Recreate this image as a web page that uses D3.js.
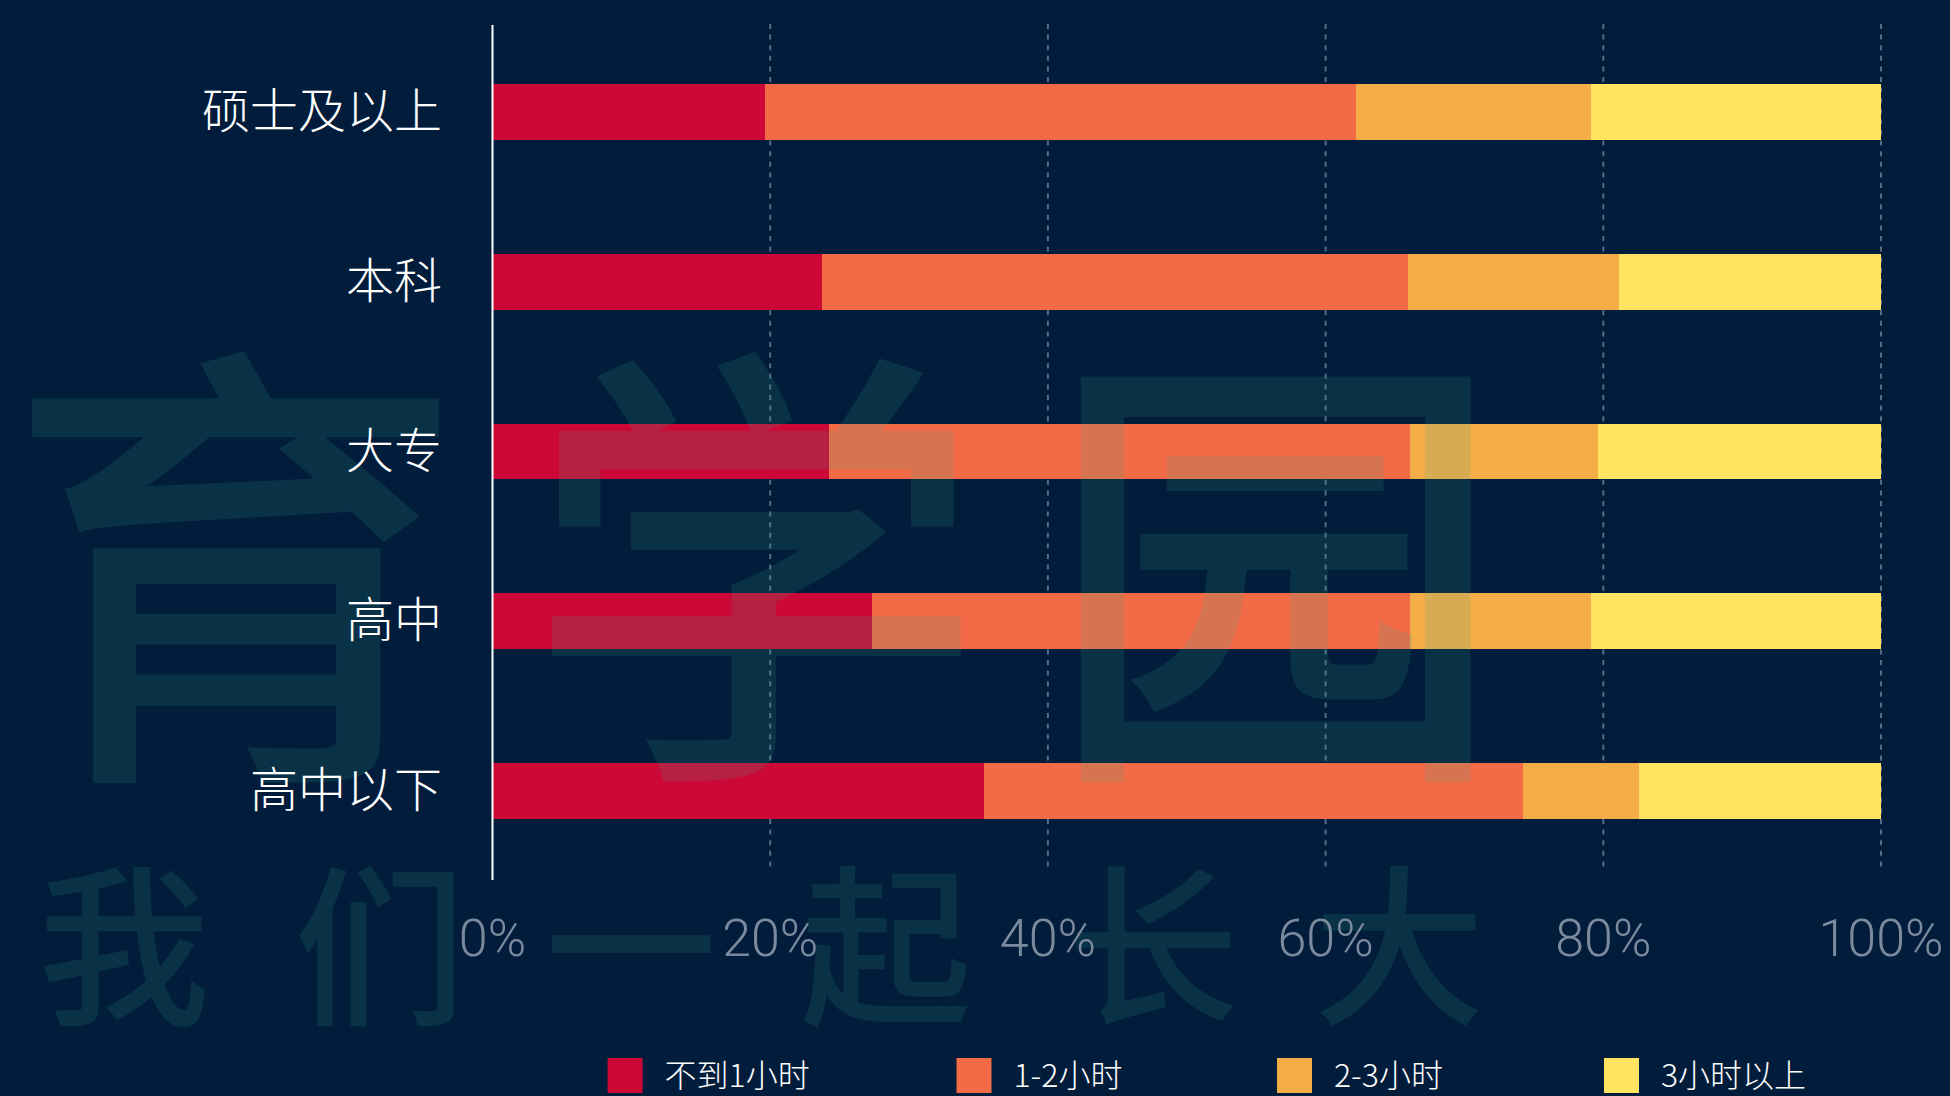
<!DOCTYPE html>
<html>
<head>
<meta charset="utf-8">
<script src="https://cdn.jsdelivr.net/npm/d3@7/dist/d3.min.js"></script>
<style>
  html, body { margin: 0; padding: 0; background: #011d3b; }
  svg { display: block; }
</style>
</head>
<body>
<svg id="chart" width="1950" height="1096"></svg>
<script>
// ---- data ----
const categories = ["硕士及以上", "本科", "大专", "高中", "高中以下"];
const seriesNames = ["不到1小时", "1-2小时", "2-3小时", "3小时以上"];
const lessThan1 = [19.6, 23.7, 24.2, 27.3, 35.4];
const oneToTwo  = [42.6, 42.2, 41.9, 38.8, 38.8];
const twoToThree = [16.9, 15.2, 13.5, 13.0, 8.4];
const moreThan3 = [20.9, 18.9, 20.4, 20.9, 17.4];
const tickValues = [0, 20, 40, 60, 80, 100];
const tickLabels = ["0%", "20%", "40%", "60%", "80%", "100%"];
const colors = ["#cc0836", "#f36a46", "#f5ad47", "#ffe462"];
const watermarkBig = ["育", "学", "园"];
const watermarkSmall = ["我", "们", "一", "起", "长", "大"];

// ---- table ----
const seriesValues = [lessThan1, oneToTwo, twoToThree, moreThan3];
const rows = categories.map((c, i) => {
  const r = { cat: c };
  seriesNames.forEach((s, j) => r[s] = seriesValues[j][i]);
  return r;
});
const stacked = d3.stack().keys(seriesNames)(rows);

const svg = d3.select("#chart");
const W = 1950, H = 1096;
svg.append("rect").attr("width", W).attr("height", H).attr("fill", "#011d3b");

const x = d3.scaleLinear().domain([0, 100]).range([492.5, 1881]);
const y = d3.scaleBand().domain(categories).range([25, 878])
  .paddingInner(0.67).paddingOuter(0.35);

// gridlines
const grid = svg.append("g");
grid.selectAll("line").data(tickValues.slice(1)).join("line")
  .attr("x1", d => x(d)).attr("x2", d => x(d))
  .attr("y1", 24).attr("y2", 872)
  .attr("stroke", "#566b84").attr("stroke-width", 2)
  .attr("stroke-dasharray", "5,5.6");

// bars
const color = d3.scaleOrdinal().domain(seriesNames).range(colors);
svg.append("g").selectAll("g").data(stacked).join("g")
  .attr("fill", d => color(d.key))
  .selectAll("rect").data(d => d).join("rect")
  .attr("x", d => x(d[0]))
  .attr("width", d => x(d[1]) - x(d[0]))
  .attr("y", d => y(d.data.cat))
  .attr("height", y.bandwidth())
  .attr("shape-rendering", "crispEdges");

// watermark (drawn over bars, under texts)
const wm = svg.append("g").attr("pointer-events", "none");
const bigX = [235, 755, 1275];
wm.selectAll("text.big").data(watermarkBig).join("text")
  .attr("class", "big")
  .attr("x", (d, i) => bigX[i]).attr("y", 543)
  .attr("text-anchor", "middle")
  .attr("dominant-baseline", "central")
  .attr("font-family", "'Noto Sans CJK SC', sans-serif")
  .attr("font-weight", 500)
  .attr("font-size", 460)
  .attr("fill", "rgb(62,160,134)")
  .attr("fill-opacity", 0.16)
  .text(d => d);
const smallX = [124, 380, 631, 886, 1153, 1399];
wm.selectAll("text.small").data(watermarkSmall).join("text")
  .attr("class", "small")
  .attr("x", (d, i) => smallX[i]).attr("y", 936)
  .attr("text-anchor", "middle")
  .attr("dominant-baseline", "central")
  .attr("font-family", "'Noto Sans CJK SC', sans-serif")
  .attr("font-weight", 500)
  .attr("font-size", 172)
  .attr("fill", "rgb(62,160,134)")
  .attr("fill-opacity", 0.16)
  .text(d => d);

// y axis line
svg.append("line")
  .attr("x1", x(0)).attr("x2", x(0))
  .attr("y1", 25).attr("y2", 880)
  .attr("stroke", "#ffffff").attr("stroke-width", 2);

// category labels
svg.append("g").selectAll("text").data(categories).join("text")
  .attr("x", 442)
  .attr("y", d => y(d) + y.bandwidth() / 2 - 5)
  .attr("text-anchor", "end")
  .attr("dominant-baseline", "central")
  .attr("fill", "#ffffff")
  .attr("font-family", "'Noto Sans CJK SC', 'Noto Sans', sans-serif")
  .attr("font-weight", 300)
  .attr("font-size", 48)
  .text(d => d);

// x tick labels
svg.append("g").selectAll("text").data(tickValues).join("text")
  .attr("x", d => x(d))
  .attr("y", 956)
  .attr("text-anchor", "middle")
  .attr("fill", "#7b8b9d")
  .attr("font-family", "'Helvetica Neue', Roboto, 'Open Sans', sans-serif")
  .attr("font-weight", 300)
  .attr("font-size", 52)
  .text((d, i) => tickLabels[i]);

// legend
const legendX = [607.6, 956.5, 1277, 1604];
const legend = svg.append("g");
seriesNames.forEach((s, i) => {
  legend.append("rect")
    .attr("x", legendX[i]).attr("y", 1058)
    .attr("width", 35).attr("height", 35)
    .attr("fill", colors[i]);
  legend.append("text")
    .attr("x", legendX[i] + 57).attr("y", 1073)
    .attr("dominant-baseline", "central")
    .attr("fill", "#ffffff")
    .attr("font-family", "'Noto Sans CJK SC', 'Noto Sans', sans-serif")
    .attr("font-weight", 300)
    .attr("font-size", 32)
    .text(s);
});
</script>
</body>
</html>
